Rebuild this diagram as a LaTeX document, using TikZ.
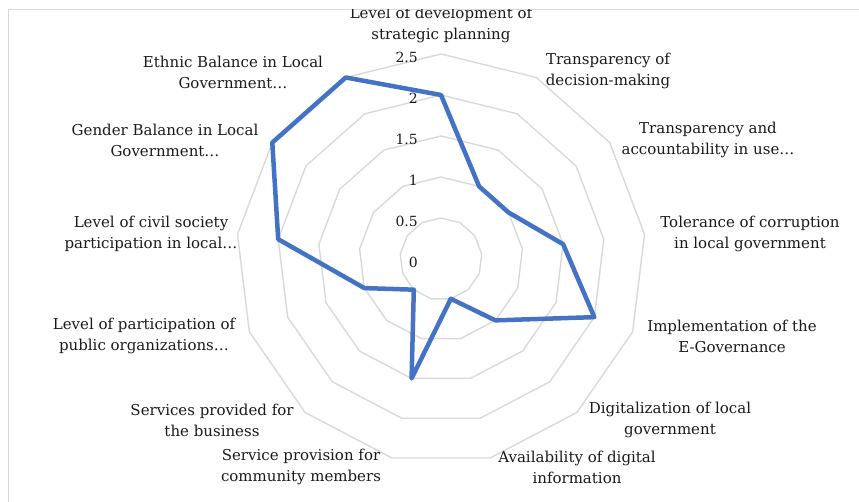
\documentclass[tikz,border=0pt]{standalone}
\usepackage{fontspec}
\setmainfont{DejaVu Serif}
\usepackage{xcolor}
\usepackage{tikz}
\usetikzlibrary{calc}
\definecolor{ink}{HTML}{1A1A1A}
\definecolor{gridline}{HTML}{D9D9D9}
\definecolor{series}{HTML}{4472C4}
\tikzset{
  frame/.style={draw=gridline, line width=1pt},
  ring/.style={draw=gridline, line width=1.4pt, line join=round},
  val/.style={draw=series, line width=4.5pt, line cap=round, line join=round},
  lab/.style={text=ink, font=\fontsize{15}{21}\selectfont, align=center, inner sep=0pt},
  tick/.style={text=ink, font=\fontsize{14}{16}\selectfont, anchor=east, inner sep=0pt},
}

\begin{document}
\begin{tikzpicture}[x=1pt,y=1pt]
  \useasboundingbox (0,0) rectangle (859,501);
  \def\u{82}
  \coordinate (O) at (441,242);
  \draw[frame] (8,491) rectangle (870,-10);
  % grid rings
  \foreach \i in {1,...,5}
    \draw[ring] ($(O)+(90:\i*\u/2)$) \foreach \k in {1,...,12}{ -- ($(O)+({90-\k*360/13}:\i*\u/2)$) } -- cycle;
  % axis values
  \foreach \v/\t [count=\i] in {0/0,0.5/0.5,1/1,1.5/1.5,2/2,2.5/2.5}
    \node[tick] (t\i) at ($(O)+(-23,\v*\u-3)$) {\t};
  % data
  \foreach \v [count=\k from 0] in {2,1,1,1.5,2,1,0.5,1.5,0.5,1,2,2.5,2.5}
    \coordinate (p\k) at ($(O)+({90-\k*360/13}:\v*\u)$);
  \draw[val] (p0) \foreach \k in {1,...,12}{ -- (p\k) } -- cycle;
  % categories
  \begin{scope}
    \clip (0,0) rectangle (859,491);
    \node[lab] (strat) at (441,476) {Level of development of\\strategic planning};
  \end{scope}
  \node[lab] (transdec) at (608,430) {Transparency of\\decision-making};
  \node[lab] (transacc) at (708,361) {Transparency and\\accountability in use…};
  \node[lab] (toler) at (750,267) {Tolerance of corruption\\in local government};
  \node[lab] (egov) at (732,165) {Implementation of the\\E-Governance};
  \node[lab] (digit) at (670,81) {Digitalization of local\\government};
  \node[lab] (avail) at (577,34) {Availability of digital\\information};
  \node[lab] (servcom) at (301,34) {Service provision for\\community members};
  \node[lab] (servbus) at (212,81) {Services provided for\\the business};
  \node[lab] (puborg) at (144,165) {Level of participation of\\public organizations…};
  \node[lab] (civil) at (151,267) {Level of civil society\\participation in local…};
  \node[lab] (gender) at (165,361) {Gender Balance in Local\\Government…};
  \node[lab] (ethnic) at (233,429) {Ethnic Balance in Local\\Government…};
\end{tikzpicture}
\end{document}
